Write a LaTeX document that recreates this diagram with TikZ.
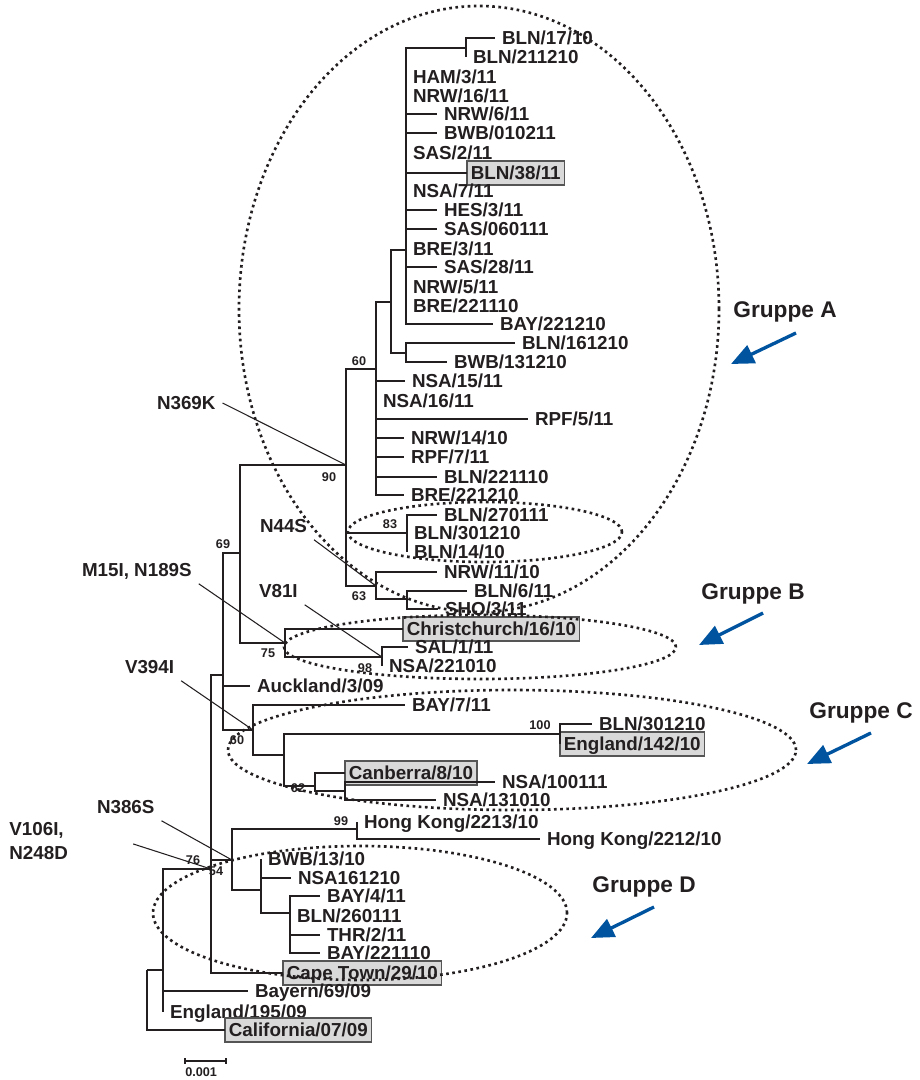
\documentclass[tikz,border=0pt]{standalone}
\usepackage{fontspec}
\setmainfont{Liberation Sans}
\usetikzlibrary{arrows.meta}

\definecolor{ink}{RGB}{35,31,32}
\definecolor{boxfill}{RGB}{217,217,217}
\definecolor{boxline}{RGB}{85,85,85}
\definecolor{arrowblue}{RGB}{0,84,159}

\newcommand{\tipfont}{\fontsize{10.7}{12.8}\selectfont\bfseries}
\newcommand{\bootfont}{\fontsize{7.2}{8.6}\selectfont\bfseries}
\newcommand{\groupfont}{\fontsize{12.9}{15.4}\selectfont\bfseries}

\begin{document}
\begin{tikzpicture}[x=0.2mm, y=-0.2mm,
  branch/.style={line width=1.5pt, draw=ink},
  tip/.style={anchor=west, inner xsep=1.4mm, inner ysep=0pt, outer sep=0pt,
    text height=7.7pt, text depth=0pt, font=\tipfont, text=ink},
  isolate/.style={tip, draw=boxline, fill=boxfill, line width=0.7pt,
    inner xsep=0.75mm, inner ysep=1.05mm},
  boot/.style={font=\bootfont, text=ink, inner sep=0pt},
  mutation/.style={tip, inner sep=1.4mm},
  leader/.style={line width=0.6pt, draw=ink},
  clade/.style={line width=1.5pt, draw=ink, dash pattern=on 1.5pt off 2pt},
  group/.style={font=\groupfont, text=ink, inner sep=0pt},
  pointer/.style={line width=1.9pt, draw=arrowblue, -{Triangle[length=13pt, width=11pt]}}
]
\useasboundingbox (0,0) rectangle (919,1080);

% inner nodes of the tree
\coordinate (root) at (147,970);
\coordinate (n0)   at (163,970);
\coordinate (n76)  at (211,869);
\coordinate (nAk)  at (223,675);
\coordinate (n69)  at (240,553);
\coordinate (n90)  at (346,465);
\coordinate (n60)  at (376,369);
\coordinate (nA2)  at (391,302);
\coordinate (nA1)  at (406,250);
\coordinate (nA0)  at (466,48);
\coordinate (nA3)  at (406,353);
\coordinate (n83)  at (407,533);
\coordinate (n63)  at (376,586);
\coordinate (n63b) at (407,599);
\coordinate (n75)  at (285,643);
\coordinate (n98)  at (382,657);
\coordinate (n60b) at (253,730);
\coordinate (nC1)  at (284,755);
\coordinate (n100) at (560,734);
\coordinate (n62)  at (315,786);
\coordinate (nC2)  at (345,791);
\coordinate (n386) at (232,860);
\coordinate (n99)  at (357,829);
\coordinate (nD1)  at (261,890);
\coordinate (nD2)  at (290,913);

% tips
\node[tip] (bln1710)     at (495,38)  {BLN/17/10};
\node[tip] (bln211210)   at (466,57)  {BLN/211210};
\node[tip] (ham311)      at (406,77)  {HAM/3/11};
\node[tip] (nrw1611)     at (406,96)  {NRW/16/11};
\node[tip] (nrw611)      at (437,114) {NRW/6/11};
\node[tip] (bwb010211)   at (437,133) {BWB/010211};
\node[tip] (sas211)      at (406,153) {SAS/2/11};
\node[isolate] (bln3811) at (467,173) {BLN/38/11};
\node[tip] (nsa711)      at (406,191) {NSA/7/11};
\node[tip] (hes311)      at (437,210) {HES/3/11};
\node[tip] (sas060111)   at (437,229) {SAS/060111};
\node[tip] (bre311)      at (406,249) {BRE/3/11};
\node[tip] (sas2811)     at (437,267) {SAS/28/11};
\node[tip] (nrw511)      at (406,287) {NRW/5/11};
\node[tip] (bre221110)   at (406,306) {BRE/221110};
\node[tip] (bay221210)   at (493,324) {BAY/221210};
\node[tip] (bln161210)   at (515,343) {BLN/161210};
\node[tip] (bwb131210)   at (447,362) {BWB/131210};
\node[tip] (nsa1511)     at (405,381) {NSA/15/11};
\node[tip] (nsa1611)     at (376,401) {NSA/16/11};
\node[tip] (rpf511)      at (528,419) {RPF/5/11};
\node[tip] (nrw1410)     at (404,438) {NRW/14/10};
\node[tip] (rpf711)      at (404,457) {RPF/7/11};
\node[tip] (bln221110)   at (437,477) {BLN/221110};
\node[tip] (bre221210)   at (404,495) {BRE/221210};
\node[tip] (bln270111)   at (437,515) {BLN/270111};
\node[tip] (blnA301210)  at (407,533) {BLN/301210};
\node[tip] (bln1410)     at (407,552) {BLN/14/10};
\node[tip] (nrw1110)     at (437,572) {NRW/11/10};
\node[tip] (bln611)      at (467,591) {BLN/6/11};
\node[tip] (sho311)      at (438,609) {SHO/3/11};
\node[isolate] (christchurch) at (403,629) {Christchurch/16/10};
\node[tip] (sal111)      at (408,647) {SAL/1/11};
\node[tip] (nsa221010)   at (382,666) {NSA/221010};
\node[tip] (auckland)    at (250,686) {Auckland/3/09};
\node[tip] (bay711)      at (405,705) {BAY/7/11};
\node[tip] (blnC301210)  at (592,724) {BLN/301210};
\node[isolate] (england14210) at (560,744) {England/142/10};
\node[isolate] (canberra) at (345,773) {Canberra/8/10};
\node[tip] (nsa100111)   at (495,782) {NSA/100111};
\node[tip] (nsa131010)   at (436,800) {NSA/131010};
\node[tip] (hk221310)    at (357,822) {Hong Kong/2213/10};
\node[tip] (hk221210)    at (540,839) {Hong Kong/2212/10};
\node[tip] (bwb1310)     at (261,859) {BWB/13/10};
\node[tip] (nsa161210)   at (291,878) {NSA161210};
\node[tip] (bay411)      at (320,896) {BAY/4/11};
\node[tip] (bln260111)   at (290,916) {BLN/260111};
\node[tip] (thr211)      at (320,935) {THR/2/11};
\node[tip] (bay221110)   at (320,953) {BAY/221110};
\node[isolate] (capetown) at (283,973) {Cape Town/29/10};
\node[tip] (bayern6909)  at (248,991) {Bayern/69/09};
\node[tip] (england19509) at (163,1012) {England/195/09};
\node[isolate] (california) at (225,1030) {California/07/09};

% branches
\draw[branch] (root) |- (n0) (root) |- (california.west);
\draw[branch] (n0) |- (n76) (n0) |- (bayern6909.west) (n0) |- (england19509.west);
\draw[branch] (n76) |- (nAk) (n76) |- (n386) (n76) |- (capetown.west);
\draw[branch] (nAk) |- (n69) (nAk) |- (auckland.west) (nAk) |- (n60b);
\draw[branch] (n69) |- (n90) (n69) |- (n75);
\draw[branch] (n90) |- (n60) (n90) |- (n83) (n90) |- (n63);
\draw[branch] (n60) |- (nA2) (n60) |- (nsa1511.west) (n60) |- (nsa1611.west)
  (n60) |- (rpf511.west) (n60) |- (nrw1410.west) (n60) |- (rpf711.west)
  (n60) |- (bln221110.west) (n60) |- (bre221210.west);
\draw[branch] (nA2) |- (nA1) (nA2) |- (nA3);
\draw[branch] (nA3) |- (bln161210.west) (nA3) |- (bwb131210.west);
\draw[branch] (nA1) |- (nA0) (nA1) |- (ham311.west) (nA1) |- (nrw1611.west)
  (nA1) |- (nrw611.west) (nA1) |- (bwb010211.west) (nA1) |- (sas211.west)
  (nA1) |- (bln3811.west) (nA1) |- (nsa711.west) (nA1) |- (hes311.west)
  (nA1) |- (sas060111.west) (nA1) |- (bre311.west) (nA1) |- (sas2811.west)
  (nA1) |- (nrw511.west) (nA1) |- (bre221110.west) (nA1) |- (bay221210.west);
\draw[branch] (nA0) |- (bln1710.west) (nA0) |- (bln211210.west);
\draw[branch] (n83) |- (bln270111.west) (n83) |- (blnA301210.west) (n83) |- (bln1410.west);
\draw[branch] (n63) |- (nrw1110.west) (n63) |- (n63b);
\draw[branch] (n63b) |- (bln611.west) (n63b) |- (sho311.west);
\draw[branch] (n75) |- (christchurch.west) (n75) |- (n98);
\draw[branch] (n98) |- (sal111.west) (n98) |- (nsa221010.west);
\draw[branch] (n60b) |- (bay711.west) (n60b) |- (nC1);
\draw[branch] (nC1) |- (n100) (nC1) |- (n62);
\draw[branch] (n100) |- (blnC301210.west) (n100) |- (england14210.west);
\draw[branch] (n62) |- (canberra.west) (n62) |- (nC2);
\draw[branch] (nC2) |- (nsa100111.west) (nC2) |- (nsa131010.west);
\draw[branch] (n386) |- (n99) (n386) |- (nD1);
\draw[branch] (n99) |- (hk221310.west) (n99) |- (hk221210.west);
\draw[branch] (nD1) |- (bwb1310.west) (nD1) |- (nsa161210.west) (nD1) |- (nD2);
\draw[branch] (nD2) |- (bay411.west) (nD2) |- (bln260111.west)
  (nD2) |- (thr211.west) (nD2) |- (bay221110.west);

% bootstrap values
\node[boot] (b60)  at (359,361) {60};
\node[boot] (b90)  at (329,477) {90};
\node[boot] (b83)  at (390,524) {83};
\node[boot] (b63)  at (359,596) {63};
\node[boot] (b69)  at (223,544) {69};
\node[boot] (b75)  at (268,653) {75};
\node[boot] (b98)  at (365,668) {98};
\node[boot] (b60b) at (237,740) {60};
\node[boot] (b100) at (540,725) {100};
\node[boot] (b62)  at (298,788) {62};
\node[boot] (b99)  at (341,821) {99};
\node[boot] (b76)  at (193,860) {76};
\node[boot] (b54)  at (216,871) {54};

% mutations
\node[mutation] (m369) at (150,403) {N369K};
\node[mutation] (m44)  at (253,526) {N44S};
\node[mutation] (m15)  at (75,570)  {M15I, N189S};
\node[mutation] (m81)  at (252,591) {V81I};
\node[mutation] (m394) at (118,667) {V394I};
\node[mutation] (m386) at (90,807)  {N386S};
\node[font=\fontsize{10.7}{13.6}\selectfont\bfseries, text=ink, align=left,
  inner sep=0pt, anchor=north west] (m106) at (9,822) {V106I,\\N248D};
\draw[leader] (m369.east) -- (n90);
\draw[leader] (m44.south east) -- (n63);
\draw[leader] (m15.south east) -- (n75);
\draw[leader] (m81.south east) -- (n98);
\draw[leader] (m394.south east) -- (n60b);
\draw[leader] (m386.south east) -- (n386);
\draw[leader] (m106.east) ++(65,3) -- (n76);

% clades
\draw[clade] (479,309) ellipse [x radius=48mm, y radius=60.6mm];
\draw[clade] (485,532) ellipse [x radius=27.4mm, y radius=6mm];
\draw[clade] (480,647) ellipse [x radius=39.2mm, y radius=6.4mm];
\draw[clade] (512,750) ellipse [x radius=56.8mm, y radius=12mm];
\draw[clade] (360,913) ellipse [x radius=41.4mm, y radius=13.4mm];

% group labels and arrows
\node[group] (grpA) at (785,312) {Gruppe A};
\node[group] (grpB) at (753,594) {Gruppe B};
\node[group] (grpC) at (861,713) {Gruppe C};
\node[group] (grpD) at (644,887) {Gruppe D};
\coordinate (pA) at (731,364);
\coordinate (pB) at (699,645);
\coordinate (pC) at (807,764);
\coordinate (pD) at (591,938);
\draw[pointer] (grpA) ++(11,21) -- (pA);
\draw[pointer] (grpB) ++(10,19) -- (pB);
\draw[pointer] (grpC) ++(10,20) -- (pC);
\draw[pointer] (grpD) ++(10,20) -- (pD);

% scale bar
\coordinate (sbL) at (185,1061);
\coordinate (sbR) at (226,1061);
\draw[branch, line width=1.1pt] (sbL) -- (sbR);
\draw[branch, line width=1.1pt] (sbL) ++(0,-3) -- ++(0,6) (sbR) ++(0,-3) -- ++(0,6);
\node[boot, anchor=west] (sblabel) at (185,1072) {0.001};

\end{tikzpicture}
\end{document}
